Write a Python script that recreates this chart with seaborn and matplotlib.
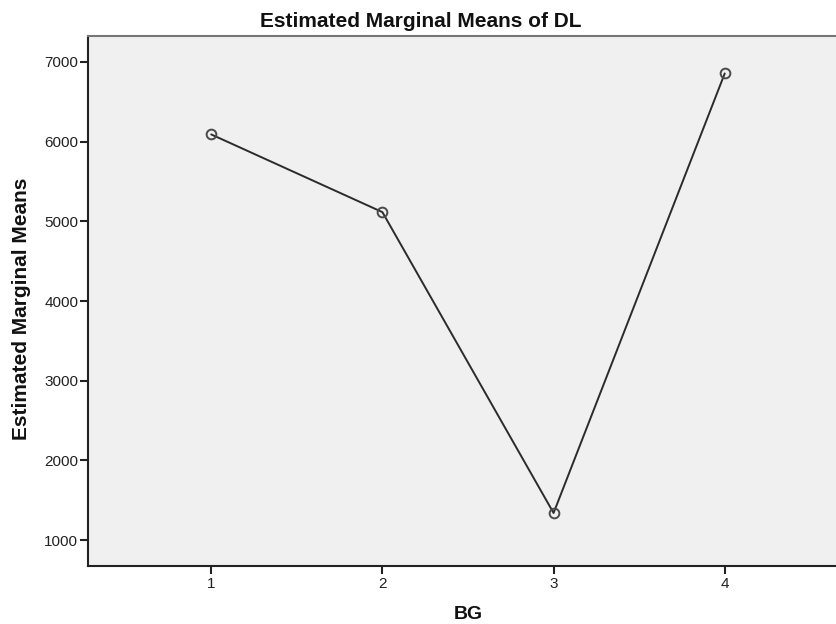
import matplotlib
matplotlib.use("Agg")
import matplotlib.pyplot as plt
import seaborn as sns
import pandas as pd

# estimated marginal means of DL for each BG level
bg_levels = [1, 2, 3, 4]
dl_means = [6090, 5115, 1340, 6855]
y_ticks = [1000, 2000, 3000, 4000, 5000, 6000, 7000]

df = pd.DataFrame({"BG": bg_levels, "DL": dl_means})

sns.set_style("white")
plt.rcParams["font.family"] = ["Liberation Sans", "DejaVu Sans"]

fig = plt.figure(figsize=(8.36, 6.24), dpi=100)
ax = fig.add_axes([88 / 836, 58 / 624, 1 - 88 / 836, (566 - 36) / 624])
ax.set_facecolor("#f0f0f0")

sns.lineplot(data=df, x="BG", y="DL", ax=ax, color="#2b2b2b", linewidth=1.4,
             marker="o", markersize=7, markerfacecolor="none",
             markeredgecolor="#4a4a4a", markeredgewidth=1.4)

ax.set_xlim(0.28, 4.65)
ax.set_ylim(675, 7325)
ax.set_xticks(bg_levels)
ax.set_xticklabels([str(b) for b in bg_levels])
ax.set_yticks(y_ticks)
ax.set_yticklabels([str(t) for t in y_ticks])
ax.tick_params(axis="both", which="both", direction="out", length=6, width=1.5,
               color="#222222", labelsize=11, labelcolor="#222222", left=True, bottom=True)
ax.tick_params(axis="y", pad=1)
ax.tick_params(axis="x", pad=2)

for side in ["left", "bottom"]:
    ax.spines[side].set_color("#222222")
    ax.spines[side].set_linewidth(1.5)
ax.spines["top"].set_color("#777777")
ax.spines["top"].set_linewidth(1.5)
ax.spines["right"].set_visible(False)

ax.set_xlabel("")
ax.set_ylabel("")
fig.text(421 / 836, 1 - 27 / 624, "Estimated Marginal Means of DL", ha="center", va="baseline",
         fontsize=15, fontweight="bold", color="#111111")
fig.text(22 / 836, 1 - 309 / 624, "Estimated Marginal Means", ha="center", va="center",
         rotation=90, fontsize=15, fontweight="bold", color="#111111")
fig.text(468 / 836, 1 - 619 / 624, "BG", ha="center", va="baseline",
         fontsize=14, fontweight="bold", color="#111111")

fig.savefig("out.png", dpi=100)
